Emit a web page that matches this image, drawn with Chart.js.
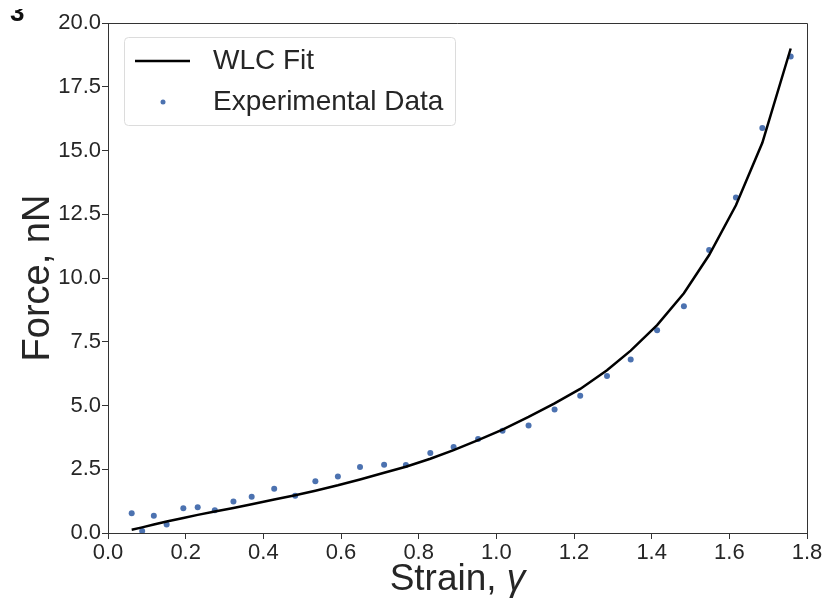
<!DOCTYPE html>
<html>
<head>
<meta charset="utf-8">
<script src="https://cdn.jsdelivr.net/npm/chart.js@4"></script>
<style>
  html, body { margin: 0; padding: 0; background: #fff; }
  #wrap { width: 824px; height: 604px; }
</style>
</head>
<body>
<div id="wrap"><canvas id="myChart" width="824" height="604"></canvas></div>
<script>
// Strain values of the measured points
const strain = [0.061, 0.088, 0.118, 0.151, 0.194, 0.231, 0.275, 0.323, 0.370, 0.428,
    0.482, 0.534, 0.592, 0.649, 0.711, 0.767, 0.830, 0.890, 0.953, 1.016,
    1.083, 1.150, 1.216, 1.285, 1.346, 1.414, 1.483, 1.548, 1.617, 1.685, 1.758];
// Experimental force, nN
const forceData = [0.77, 0.08, 0.68, 0.33, 0.97, 1.01, 0.89, 1.24, 1.42, 1.74,
    1.46, 2.03, 2.22, 2.59, 2.68, 2.67, 3.14, 3.37, 3.69, 4.01,
    4.22, 4.84, 5.38, 6.16, 6.80, 7.95, 8.89, 11.10, 13.16, 15.88, 18.69];
// WLC fit, nN
const forceFit = [0.13, 0.22, 0.33, 0.45, 0.59, 0.71, 0.84, 0.98, 1.13, 1.31,
    1.48, 1.66, 1.87, 2.10, 2.36, 2.60, 2.91, 3.25, 3.64, 4.05,
    4.55, 5.08, 5.65, 6.38, 7.15, 8.15, 9.40, 10.9, 12.85, 15.3, 19.0];

const xTicks = ['0.0', '0.2', '0.4', '0.6', '0.8', '1.0', '1.2', '1.4', '1.6', '1.8'];
const yTicks = ['0.0', '2.5', '5.0', '7.5', '10.0', '12.5', '15.0', '17.5', '20.0'];

const font = "'Liberation Sans', Arial, sans-serif";
const axisColor = '#333333';
const textColor = '#262626';
const dotColor = '#4c72b0';

const fitPoints = strain.map((x, i) => ({ x: x, y: forceFit[i] }));
const dataPoints = strain.map((x, i) => ({ x: x, y: forceData[i] }));

// frame, legend, x title and the cut panel mark
const extras = {
    id: 'extras',
    afterDraw(chart) {
        const c = chart.ctx;
        const a = chart.chartArea;
        c.save();
        c.strokeStyle = axisColor;
        c.lineWidth = 1;
        c.beginPath();
        c.moveTo(a.left, a.top + 0.5);
        c.lineTo(a.right + 0.5, a.top + 0.5);
        c.lineTo(a.right + 0.5, a.bottom);
        c.stroke();

        // legend
        c.fillStyle = 'rgba(255,255,255,0.8)';
        c.strokeStyle = '#dcdcdc';
        c.beginPath();
        c.roundRect(124.5, 37.5, 331, 88, 4);
        c.fill();
        c.stroke();
        const ds = chart.data.datasets;
        c.strokeStyle = ds[0].borderColor;
        c.lineWidth = 2.5;
        c.beginPath();
        c.moveTo(135, 61);
        c.lineTo(190, 61);
        c.stroke();
        c.fillStyle = ds[1].backgroundColor;
        c.beginPath();
        c.arc(163, 102, 2.5, 0, Math.PI * 2);
        c.fill();
        c.fillStyle = textColor;
        c.font = '28px ' + font;
        c.textBaseline = 'middle';
        c.fillText(ds[0].label, 213, 61);
        c.fillText(ds[1].label, 213, 102);

        // x title with italic gamma
        c.font = '37px ' + font;
        c.textBaseline = 'alphabetic';
        const part1 = 'Strain, ';
        const w1 = c.measureText(part1).width;
        c.font = 'italic 37px ' + font;
        const w2 = c.measureText('γ').width;
        const cx = (a.left + a.right) / 2;
        const x0 = cx - (w1 + w2) / 2;
        c.font = '37px ' + font;
        c.fillText(part1, x0, 590);
        c.font = 'italic 37px ' + font;
        c.fillText('γ', x0 + w1, 590);

        // panel mark, cut at the top edge
        c.beginPath();
        c.rect(0, 9, 40, 30);
        c.clip();
        c.font = 'bold 26px ' + font;
        c.fillStyle = '#111';
        c.fillText('3', 10, 21);
        c.restore();
    }
};

new Chart(document.getElementById('myChart'), {
    type: 'scatter',
    data: {
        datasets: [{
            label: 'WLC Fit',
            data: fitPoints,
            showLine: true,
            borderColor: '#000000',
            borderWidth: 2.5,
            pointRadius: 0,
            tension: 0,
            order: 1
        }, {
            label: 'Experimental Data',
            data: dataPoints,
            backgroundColor: dotColor,
            borderColor: dotColor,
            pointRadius: 3,
            borderWidth: 0,
            order: 2
        }]
    },
    options: {
        responsive: false,
        animation: false,
        layout: { padding: { top: 23, right: 17, left: 0, bottom: 0 } },
        plugins: {
            legend: { display: false },
            tooltip: { enabled: false }
        },
        scales: {
            x: {
                type: 'linear',
                min: 0,
                max: 1.8,
                afterFit(s) { s.height = 71; },
                afterBuildTicks(s) {
                    s.ticks = xTicks.map(t => ({ value: parseFloat(t) }));
                },
                ticks: {
                    callback: (v, i) => xTicks[i],
                    color: textColor,
                    font: { family: font, size: 22 },
                    padding: 1,
                    maxRotation: 0,
                    autoSkip: false
                },
                grid: { drawOnChartArea: false, drawTicks: true, tickLength: 6, color: axisColor },
                border: { display: true, color: axisColor, width: 1 }
            },
            y: {
                type: 'linear',
                min: 0,
                max: 20,
                afterFit(s) { s.width = 108; },
                afterBuildTicks(s) {
                    s.ticks = yTicks.map(t => ({ value: parseFloat(t) }));
                },
                ticks: {
                    callback: (v, i) => yTicks[i],
                    color: textColor,
                    font: { family: font, size: 22 },
                    padding: 1,
                    autoSkip: false
                },
                title: {
                    display: true,
                    text: 'Force, nN',
                    color: textColor,
                    font: { family: font, size: 38 },
                    padding: { top: 16, bottom: 0 }
                },
                grid: { drawOnChartArea: false, drawTicks: true, tickLength: 6, color: axisColor },
                border: { display: true, color: axisColor, width: 1 }
            }
        }
    },
    plugins: [extras]
});
</script>
</body>
</html>
